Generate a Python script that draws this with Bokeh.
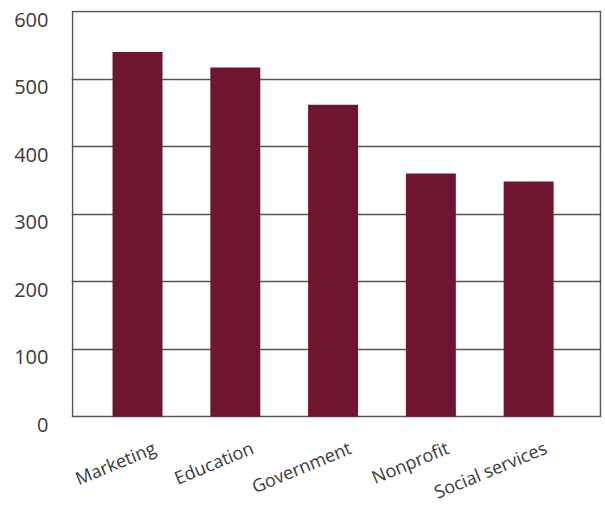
import math
from bokeh.plotting import figure
from bokeh.models import Range1d, FixedTicker, LinearAxis, Grid
from bokeh.core.properties import value
from bokeh.embed import file_html
from bokeh.resources import INLINE

categories = ["Marketing", "Education", "Government", "Nonprofit", "Social services"]
values = [540, 517, 462, 360, 348]
y_ticks = [0, 100, 200, 300, 400, 500, 600]

positions = list(range(len(categories)))
X0, X1 = -0.665, 4.735          # category axis extent (box edges)
Y0, Y1 = 0, 600                 # value axis extent (box edges)
BOX_W, BOX_H = 528, 405         # box size in px
KX = (X1 - X0) / BOX_W          # data units per px
S = BOX_H / (Y1 - Y0)           # px per value unit
BELOW = 90                      # px of label room below the box (inside the frame)
DY = 8 / S                      # tick-label shift downwards

FONT = "Open Sans"
TXT = "#3a3a3a"
LINE = "#555555"

p = figure(width=605, height=506, output_backend="svg", toolbar_location=None,
           x_range=Range1d(X0 - KX, X1 + KX),
           y_range=Range1d(Y0 - BELOW / S, Y1 + 1 / S),
           x_axis_location=None, y_axis_location=None,
           min_border_left=71, min_border_top=10, min_border_right=4,
           min_border_bottom=0)
p.extra_y_ranges = {"ylab": Range1d(Y0 - BELOW / S + DY, Y1 + 1 / S + DY)}
for g in p.grid:
    g.visible = False
p.outline_line_color = None
p.background_fill_color = "white"
p.border_fill_color = "white"

# horizontal grid lines (incl. top and bottom of the box)
p.add_layout(Grid(dimension=1, ticker=FixedTicker(ticks=y_ticks),
                  grid_line_color=LINE, grid_line_width=1.5))
# left / right sides of the box
p.segment(x0=[X0, X1], y0=[Y0, Y0], x1=[X0, X1], y1=[Y1, Y1],
          line_color=LINE, line_width=1.5)

p.vbar(x=positions, top=values, width=0.511, color="#701530", line_color=None)

yax = LinearAxis(y_range_name="ylab", ticker=FixedTicker(ticks=y_ticks),
                 major_label_text_font=FONT, major_label_text_font_size="20px",
                 major_label_text_color=TXT, major_label_standoff=23,
                 major_tick_line_color=None, minor_tick_line_color=None,
                 major_tick_out=0, major_tick_in=0, axis_line_color=None)
p.add_layout(yax, "left")

p.text(x=positions, y=[Y0] * len(categories), text=categories,
       angle=math.pi / 8, text_align="right", text_baseline="alphabetic",
       x_offset=17, y_offset=30,
       text_font=value(FONT), text_font_size="18px", text_color=TXT)

open("out.html", "w").write(file_html(p, INLINE))
